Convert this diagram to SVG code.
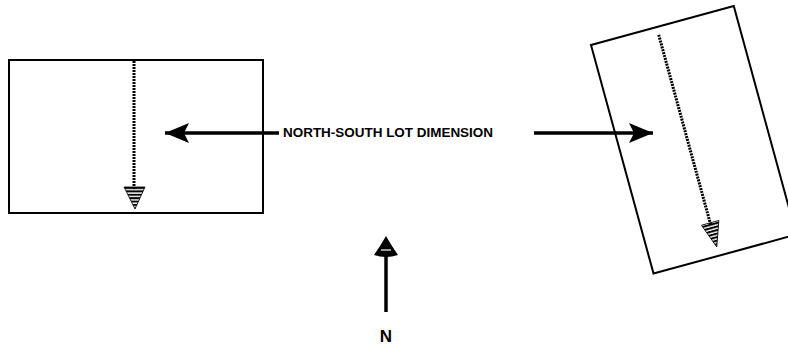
<svg xmlns="http://www.w3.org/2000/svg" width="788" height="345" viewBox="0 0 788 345">
<defs>
<style>
.lot{fill:none;stroke:#000;stroke-width:2}
.dim{fill:none;stroke:#000;stroke-width:3;stroke-dasharray:2 1}
.ptr{fill:none;stroke:#000;stroke-width:3.5}
.lbl{font-family:"Liberation Sans",Arial,sans-serif;font-weight:bold;fill:#000}
</style>
<pattern id="stripes" patternUnits="userSpaceOnUse" width="4" height="3.4">
<rect width="4" height="2" fill="#000"/>
</pattern>
<marker id="solidHead" markerUnits="userSpaceOnUse" markerWidth="26" markerHeight="22" refX="24" refY="11" orient="auto">
<path d="M0,1 L24,11 L0,21 L5,11 Z" fill="#000"/>
</marker>
</defs>
<rect width="788" height="345" fill="#fff"/>
<g id="lot-left">
<rect class="lot" x="9" y="60" width="254" height="153"/>
<line class="dim" x1="134" y1="61" x2="134" y2="190"/>
<path d="M124,187 L145,187 L135,209 Z" fill="url(#stripes)" stroke="#000" stroke-width="0.8"/>
</g>
<g id="lot-right" transform="translate(591,45) rotate(-15.3)">
<rect class="lot" x="0" y="0" width="148" height="237"/>
<line class="dim" x1="68" y1="8" x2="68" y2="206"/>
<path d="M59,203 L77,203 L68,228 Z" fill="url(#stripes)" stroke="#000" stroke-width="0.8"/>
</g>
<g id="label">
<text class="lbl" x="283" y="137" font-size="13" textLength="210" lengthAdjust="spacingAndGlyphs">NORTH-SOUTH LOT DIMENSION</text>
</g>
<g id="north">
<line x1="386" y1="312" x2="386" y2="252" stroke="#000" stroke-width="3.5"/>
<path d="M386,236 L392,246 L398,255 Q386,259 374,255 L380,246 Z" fill="#000"/>
<line x1="381" y1="250" x2="391" y2="250" stroke="#fff" stroke-width="1.2"/>
<text class="lbl" x="386" y="342" font-size="17" text-anchor="middle">N</text>
</g>
<g id="connectors">
<line class="ptr" x1="279" y1="133" x2="165" y2="133" marker-end="url(#solidHead)"/>
<line class="ptr" x1="534" y1="133" x2="653" y2="133" marker-end="url(#solidHead)"/>
</g>
</svg>
